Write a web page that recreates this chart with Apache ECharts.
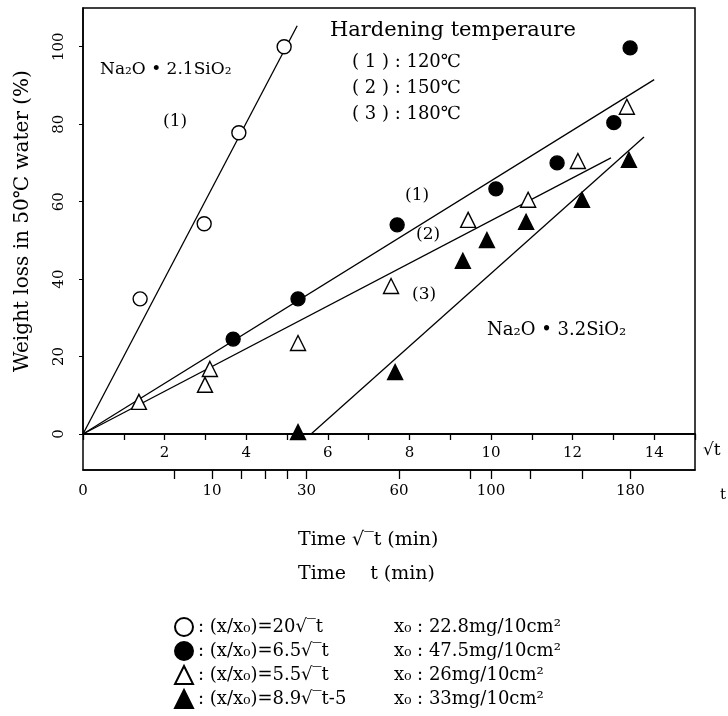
<!DOCTYPE html>
<html>
<head>
<meta charset="utf-8">
<script src="https://cdn.jsdelivr.net/npm/echarts@6/dist/echarts.min.js"></script>
<style>
    html, body { margin: 0; padding: 0; background: #fff; }
    #chart { width: 728px; height: 716px; }
</style>
</head>
<body>
<div id="chart"></div>
<script>
// values, x = sqrt(t) (min^0.5), y = weight loss (%)
var openCircle = [[1.40, 34.9], [2.97, 54.3], [3.82, 77.8], [4.93, 100]];
var filledCircle = [[3.68, 24.5], [5.27, 34.9], [7.70, 54.0], [10.12, 63.3],
    [11.62, 70.0], [13.01, 80.4], [13.41, 99.7]];
var openTriangle = [[1.37, 8.3], [2.99, 12.7], [3.11, 16.8], [5.27, 23.5],
    [7.55, 38.2], [9.44, 55.3], [10.91, 60.5], [12.13, 70.5], [13.33, 84.5]];
var filledTriangle = [[5.27, 0.5], [7.65, 16.0], [9.31, 44.7], [9.90, 50.1],
    [10.86, 54.8], [12.23, 60.5], [13.38, 70.8]];

// fitted lines, endpoints as drawn
var lineOpenCircle = [[0, 0], [5.25, 105.4]];
var line1 = [[0, 0], [14.0, 91.5]];
var line2 = [[0, 0], [12.94, 71.3]];
var line3 = [[5.59, 0], [13.75, 76.7]];

// axis ticks
var sqrtLabels = [2, 4, 6, 8, 10, 12, 14];
var tTicks = [5, 10, 15, 20, 25, 30, 60, 90, 100, 120, 150, 180];
var tLabels = [0, 10, 30, 60, 100, 180];
var yLabels = [0, 20, 40, 60, 80, 100];

// legend rows
var legendNames = ['open', 'filled', 'openTri', 'filledTri'];
var legendFormula = [': (x/x\u2080)=20\u221a\u203et', ': (x/x\u2080)=6.5\u221a\u203et',
    ': (x/x\u2080)=5.5\u221a\u203et', ': (x/x\u2080)=8.9\u221a\u203et-5'];
var legendX0 = ['x\u2080 : 22.8mg/10cm\u00b2', 'x\u2080 : 47.5mg/10cm\u00b2',
    'x\u2080 : 26mg/10cm\u00b2', 'x\u2080 : 33mg/10cm\u00b2'];

var serif = '"DejaVu Serif", "Liberation Serif", serif';

function sqrtOf(arr) {
    return arr.map(function(v) { return Math.sqrt(v); });
}

function pointSeries(name, data, symbol, fill) {
    return {
        name: name,
        type: 'scatter',
        data: data,
        symbol: symbol,
        symbolSize: symbol == 'triangle' ? 15 : 14,
        itemStyle: { color: fill, borderColor: '#000', borderWidth: 1.4, opacity: 1 },
        z: 5
    };
}

function lineSeries(data) {
    return {
        type: 'line',
        data: data,
        symbol: 'none',
        silent: true,
        lineStyle: { color: '#000', width: 1.3 },
        z: 3
    };
}

function note(text, left, top, size) {
    return {
        type: 'text',
        left: left,
        top: top,
        style: { text: text, fontSize: size, fontFamily: serif, fill: '#000' }
    };
}

var chart = echarts.init(document.getElementById('chart'));

chart.setOption({
    animation: false,
    backgroundColor: '#fff',
    grid: [
        { left: 83, right: 33, top: 8, bottom: 282, show: true, borderColor: '#000', borderWidth: 1.5 },
        { left: 83, right: 33, top: 434, height: 36, show: true, borderColor: '#000', borderWidth: 1.5 }
    ],
    xAxis: [{
        gridIndex: 0,
        type: 'value',
        min: 0,
        max: 15,
        interval: 1,
        position: 'bottom',
        axisLine: { lineStyle: { color: '#000', width: 1.5 } },
        axisTick: { length: 6, lineStyle: { color: '#000', width: 1.3 } },
        axisLabel: {
            customValues: sqrtLabels,
            margin: 12,
            fontSize: 15,
            fontFamily: serif,
            color: '#000'
        },
        splitLine: { show: false }
    }, {
        gridIndex: 1,
        type: 'value',
        min: 0,
        max: 15,
        position: 'bottom',
        axisLine: { lineStyle: { color: '#000', width: 1.5 } },
        axisTick: { customValues: sqrtOf(tTicks), length: 9, lineStyle: { color: '#000', width: 1.3 } },
        axisLabel: {
            customValues: sqrtOf(tLabels),
            margin: 14,
            fontSize: 15,
            fontFamily: serif,
            color: '#000',
            formatter: function(v) { return Math.round(v * v); }
        },
        splitLine: { show: false }
    }],
    yAxis: [{
        gridIndex: 0,
        type: 'value',
        min: 0,
        max: 110,
        name: 'Weight loss in 50\u2103 water (%)',
        nameLocation: 'middle',
        nameGap: 50,
        nameRotate: 90,
        nameTextStyle: { fontSize: 20, fontFamily: serif, color: '#000' },
        axisLine: { show: true, lineStyle: { color: '#000', width: 1.5 } },
        axisTick: { customValues: yLabels, length: 4, lineStyle: { color: '#000' } },
        axisLabel: {
            customValues: yLabels,
            rotate: 90,
            margin: 16,
            fontSize: 15,
            fontFamily: serif,
            color: '#000'
        },
        splitLine: { show: false }
    }, {
        gridIndex: 1,
        type: 'value',
        min: 0,
        max: 1,
        show: false
    }],
    legend: {
        orient: 'vertical',
        left: 174,
        top: 617,
        padding: 0,
        itemWidth: 18,
        itemHeight: 18,
        itemGap: 4,
        data: legendNames,
        formatter: function(name) {
            var i = legendNames.indexOf(name);
            return '{f|' + legendFormula[i] + '}{g|' + legendX0[i] + '}';
        },
        textStyle: {
            rich: {
                f: { width: 196, fontSize: 18, lineHeight: 19, fontFamily: serif, color: '#000' },
                g: { fontSize: 18, lineHeight: 19, fontFamily: serif, color: '#000' }
            }
        }
    },
    graphic: [
        note('Na\u2082O \u2022 2.1SiO\u2082', 100, 61, 17),
        note('(1)', 163, 113, 17),
        note('Hardening temperaure', 330, 20, 21),
        note('( 1 ) : 120\u2103', 352, 53, 18),
        note('( 2 ) : 150\u2103', 352, 79, 18),
        note('( 3 ) : 180\u2103', 352, 105, 18),
        note('(1)', 405, 187, 17),
        note('(2)', 416, 226, 17),
        note('(3)', 412, 286, 17),
        note('Na\u2082O \u2022 3.2SiO\u2082', 487, 321, 18),
        note('\u221at', 703, 442, 17),
        note('t', 720, 488, 15),
        note('Time \u221a\u203et (min)', 298, 531, 19),
        note('Time    t (min)', 298, 565, 19)
    ],
    series: [
        lineSeries(lineOpenCircle),
        lineSeries(line1),
        lineSeries(line2),
        lineSeries(line3),
        pointSeries('open', openCircle, 'circle', '#fff'),
        pointSeries('filled', filledCircle, 'circle', '#000'),
        pointSeries('openTri', openTriangle, 'triangle', '#fff'),
        pointSeries('filledTri', filledTriangle, 'triangle', '#000')
    ]
});
</script>
</body>
</html>
